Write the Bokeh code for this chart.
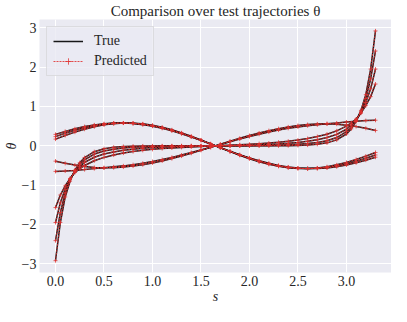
from bokeh.plotting import figure
from bokeh.models import (Range1d, SingleIntervalTicker, NumeralTickFormatter,
                          CustomJSTickFormatter, Legend, LegendItem)
from bokeh.embed import file_html
from bokeh.resources import INLINE

# arc length s (denser sampling near the ends for the steep trajectories)
s_steep = [0.0, 0.05, 0.1, 0.15, 0.2, 0.25, 0.3, 0.4, 0.5, 0.6, 0.7, 0.8, 0.9, 1.0, 1.1, 1.2, 1.3, 1.4, 1.5, 1.6,
           1.7, 1.8, 1.9, 2.0, 2.1, 2.2, 2.3, 2.4, 2.5, 2.6, 2.7, 2.8, 2.9, 3.0, 3.05, 3.1, 3.15, 3.2, 3.25, 3.3]
s = [0.0, 0.1, 0.2, 0.3, 0.4, 0.5, 0.6, 0.7, 0.8, 0.9, 1.0, 1.1, 1.2, 1.3, 1.4, 1.5, 1.6,
     1.7, 1.8, 1.9, 2.0, 2.1, 2.2, 2.3, 2.4, 2.5, 2.6, 2.7, 2.8, 2.9, 3.0, 3.1, 3.2, 3.3]

# steep trajectories (sampled on s_steep)
theta_c1 = [-2.92, -1.95, -1.30, -0.90, -0.62, -0.43, -0.30, -0.15, -0.075, -0.038, -0.018, -0.009, -0.004, -0.002, -0.001, 0.0, 0.0, 0.0, 0.0, 0.0,
            0.0, 0.0, 0.0, 0.0, 0.0, 0.001, 0.002, 0.004, 0.009, 0.018, 0.038, 0.075, 0.15, 0.30, 0.43, 0.62, 0.90, 1.30, 1.95, 2.92]
theta_c2 = [-2.41, -1.70, -1.20, -0.86, -0.64, -0.47, -0.36, -0.21, -0.13, -0.085, -0.058, -0.038, -0.025, -0.016, -0.010, -0.006, -0.004, -0.002, -0.001, 0.0,
            0.0, 0.001, 0.002, 0.004, 0.006, 0.010, 0.016, 0.025, 0.038, 0.058, 0.085, 0.13, 0.21, 0.36, 0.47, 0.64, 0.86, 1.20, 1.70, 2.41]
theta_c3 = [-1.95, -1.45, -1.10, -0.84, -0.66, -0.53, -0.42, -0.29, -0.21, -0.155, -0.115, -0.085, -0.062, -0.045, -0.032, -0.022, -0.015, -0.009, -0.005, -0.002,
            0.002, 0.005, 0.009, 0.015, 0.022, 0.032, 0.045, 0.062, 0.085, 0.115, 0.155, 0.21, 0.29, 0.42, 0.53, 0.66, 0.84, 1.10, 1.45, 1.95]
theta_c4 = [-1.57, -1.25, -1.02, -0.83, -0.68, -0.58, -0.50, -0.38, -0.295, -0.235, -0.185, -0.145, -0.115, -0.09, -0.07, -0.055, -0.04, -0.028, -0.017, -0.006,
            0.006, 0.017, 0.028, 0.04, 0.055, 0.07, 0.09, 0.115, 0.145, 0.185, 0.235, 0.295, 0.38, 0.50, 0.58, 0.68, 0.83, 1.02, 1.25, 1.57]
# wave-like trajectories (sampled on s)
theta_a1 = [0.290, 0.365, 0.432, 0.488, 0.531, 0.562, 0.577, 0.579, 0.566, 0.538, 0.498, 0.444, 0.380, 0.306, 0.224, 0.137, 0.046,
            -0.046, -0.137, -0.224, -0.306, -0.380, -0.444, -0.498, -0.538, -0.566, -0.579, -0.577, -0.562, -0.531, -0.488, -0.432, -0.365, -0.290]
theta_a2 = [0.233, 0.318, 0.393, 0.458, 0.510, 0.549, 0.572, 0.580, 0.572, 0.549, 0.510, 0.458, 0.393, 0.317, 0.233, 0.142, 0.048,
            -0.048, -0.142, -0.233, -0.317, -0.393, -0.458, -0.510, -0.549, -0.572, -0.580, -0.572, -0.549, -0.510, -0.458, -0.393, -0.318, -0.233]
theta_a3 = [0.170, 0.263, 0.347, 0.422, 0.484, 0.532, 0.563, 0.579, 0.576, 0.558, 0.522, 0.471, 0.406, 0.329, 0.242, 0.148, 0.050,
            -0.050, -0.148, -0.242, -0.329, -0.406, -0.471, -0.522, -0.558, -0.576, -0.579, -0.563, -0.532, -0.484, -0.422, -0.347, -0.263, -0.170]
theta_b1 = [-0.39, -0.445, -0.49, -0.525, -0.55, -0.56, -0.555, -0.54, -0.515, -0.48, -0.435, -0.385, -0.325, -0.26, -0.19, -0.115, -0.04,
            0.04, 0.115, 0.19, 0.26, 0.325, 0.385, 0.435, 0.48, 0.515, 0.54, 0.555, 0.56, 0.55, 0.525, 0.49, 0.445, 0.39]
theta_b2 = [-0.65, -0.64, -0.625, -0.605, -0.58, -0.56, -0.535, -0.51, -0.48, -0.445, -0.40, -0.35, -0.295, -0.235, -0.17, -0.105, -0.035,
            0.035, 0.105, 0.17, 0.235, 0.295, 0.35, 0.40, 0.445, 0.48, 0.51, 0.535, 0.56, 0.58, 0.605, 0.625, 0.64, 0.65]

true_series = [(s_steep, theta_c1), (s_steep, theta_c2), (s_steep, theta_c3), (s_steep, theta_c4),
               (s, theta_a1), (s, theta_a2), (s, theta_a3), (s, theta_b1), (s, theta_b2)]
pred_series = [(s_steep, theta_c1), (s_steep, theta_c2), (s_steep, theta_c3), (s_steep, theta_c4),
               (s, theta_a1), (s, theta_a2), (s, theta_a3), (s, theta_b1), (s, theta_b2)]

x_ticks_interval = 0.5
y_ticks_interval = 1

SERIF = "Liberation Serif"
TXT = "#262626"
RED = "#e0302f"

p = figure(width=391, height=306, output_backend="svg", toolbar_location=None,
           x_range=Range1d(-0.165, 3.465), y_range=Range1d(-3.22, 3.21),
           min_border_left=2, min_border_right=0, min_border_top=0, min_border_bottom=0)

p.background_fill_color = "#EAEAF2"
p.border_fill_color = "white"
p.outline_line_color = None

p.title.text = "Comparison over test trajectories θ"
p.title.align = "center"
p.title.text_font = SERIF
p.title.text_font_size = "15px"
p.title.text_font_style = "normal"
p.title.text_color = TXT
p.title.standoff = 1

p.xaxis.ticker = SingleIntervalTicker(interval=x_ticks_interval)
p.yaxis.ticker = SingleIntervalTicker(interval=y_ticks_interval)
p.xaxis.formatter = NumeralTickFormatter(format="0.0")
p.yaxis.formatter = CustomJSTickFormatter(code="return tick < 0 ? '\u2212' + (-tick) : '' + tick;")
p.xaxis.axis_label = "s"
p.yaxis.axis_label = "θ"
for ax in (p.xaxis, p.yaxis):
    ax.axis_line_color = None
    ax.major_tick_line_color = None
    ax.minor_tick_line_color = None
    ax.major_tick_out = 0
    ax.major_tick_in = 0
    ax.minor_tick_out = 0
    ax.major_label_text_font = SERIF
    ax.major_label_text_font_size = "14px"
    ax.major_label_text_color = TXT
    ax.major_label_standoff = 3
    ax.axis_label_text_font = SERIF
    ax.axis_label_text_font_size = "14px"
    ax.axis_label_text_font_style = "italic"
    ax.axis_label_text_color = TXT
    ax.axis_label_standoff = 0

p.xgrid.grid_line_color = "white"
p.ygrid.grid_line_color = "white"
p.xgrid.grid_line_width = 1
p.ygrid.grid_line_width = 1

true_r = []
for xs, ys in true_series:
    true_r.append(p.line(xs, ys, line_color="black", line_width=1.5, line_alpha=0.9))
pred_l = []
pred_m = []
for xs, ys in pred_series:
    pred_l.append(p.line(xs, ys, line_color=RED, line_width=1.0, line_dash="2 1", line_alpha=0.85))
    pred_m.append(p.scatter(xs, ys, marker="cross", size=4, line_color=RED, line_width=0.9, line_alpha=0.85))

legend = Legend(items=[LegendItem(label="True", renderers=[true_r[0]]),
                       LegendItem(label="Predicted", renderers=[pred_l[0], pred_m[0]])],
                location="top_left")
legend.label_text_font = SERIF
legend.label_text_font_size = "14px"
legend.label_text_color = TXT
legend.background_fill_color = "#EAEAF2"
legend.background_fill_alpha = 0.8
legend.border_line_color = "#cccccc"
legend.border_line_width = 1
legend.glyph_width = 30
legend.glyph_height = 16
legend.label_standoff = 11
legend.spacing = 4
legend.padding = 6
legend.margin = 7
p.add_layout(legend)

open("out.html", "w").write(file_html(p, INLINE))
